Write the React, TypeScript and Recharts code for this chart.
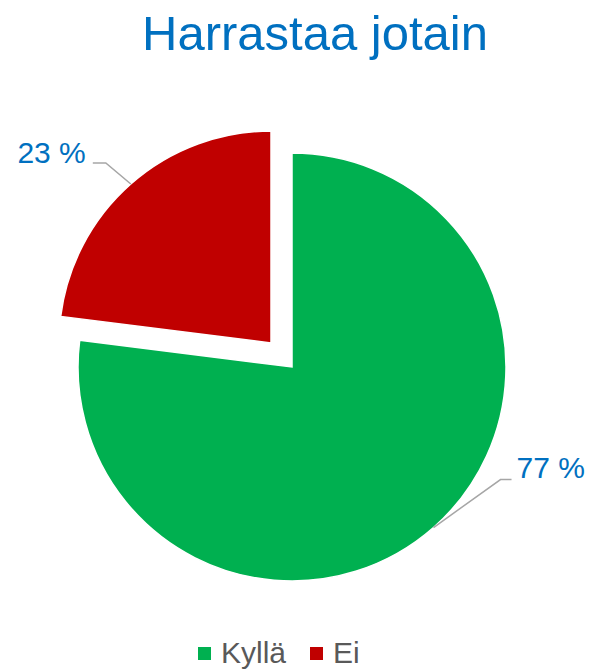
import React from 'react';
import { PieChart, Pie, Cell, Legend } from 'recharts';

const categories = ['Kyllä', 'Ei'];
const shares = [77, 23];
const colors = ['#00B050', '#C00000'];
const title = 'Harrastaa jotain';

const data = categories.map((name, i) => ({ name, value: shares[i] }));

const FONT = '"Liberation Sans", Arial, Helvetica, sans-serif';
const BLUE = '#0070C0';
const RAD = Math.PI / 180;

// label with an elbow leader line, only for the slice this pie shows
const makeLabel = (showIndex: number) => (props: any) => {
  const { cx, cy, midAngle, outerRadius, index, value } = props;
  if (index !== showIndex) return <g />;
  const ex = cx + outerRadius * Math.cos(-midAngle * RAD);
  const ey = cy + outerRadius * Math.sin(-midAngle * RAD);
  const right = Math.cos(-midAngle * RAD) >= 0;
  const elbowX = right ? ex + 67 : ex - 25;
  const elbowY = right ? ey - 48 : ey - 21;
  const endX = right ? elbowX + 11 : elbowX - 13;
  const textX = right ? endX + 5 : endX - 7;
  const textY = right ? elbowY - 2 : elbowY;
  return (
    <g>
      <polyline
        points={`${ex},${ey} ${elbowX},${elbowY} ${endX},${elbowY}`}
        fill="none"
        stroke="#A6A6A6"
        strokeWidth={1.5}
      />
      <text
        x={textX}
        y={textY}
        textAnchor={right ? 'start' : 'end'}
        fill={BLUE}
        fontSize={30}
        fontFamily={FONT}
      >
        {`${value} %`}
      </text>
    </g>
  );
};

const renderLegend = () => (
  <div style={{ display: 'flex', alignItems: 'center', fontFamily: FONT, fontSize: 30, color: '#595959' }}>
    {categories.map((name, i) => (
      <div key={name} style={{ display: 'flex', alignItems: 'center', marginRight: 24 }}>
        <span style={{ width: 13, height: 13, background: colors[i], marginRight: 10 }} />
        <span>{name}</span>
      </div>
    ))}
  </div>
);

const App: React.FC = () => {
  return (
    <div style={{ position: 'absolute', left: 0, top: 0, width: 593, height: 669, background: '#fff' }}>
      <svg width={593} height={70} style={{ position: 'absolute', left: 0, top: 0 }}>
        <text x={315} y={50} textAnchor="middle" fill={BLUE} fontSize={49} fontFamily={FONT}>
          {title}
        </text>
      </svg>
      <div style={{ position: 'absolute', left: 0, top: 0 }}>
        <PieChart width={593} height={669} margin={{ top: 0, right: 0, bottom: 0, left: 0 }}>
          <Pie
            data={data}
            dataKey="value"
            nameKey="name"
            cx={292}
            cy={367}
            outerRadius={214}
            startAngle={90}
            endAngle={-270}
            stroke="#fff"
            strokeWidth={1.5}
            label={makeLabel(0)}
            labelLine={false}
            isAnimationActive={false}
          >
            {data.map((d, i) => (
              <Cell key={d.name} fill={colors[i]} fillOpacity={i === 0 ? 1 : 0} strokeOpacity={i === 0 ? 1 : 0} />
            ))}
          </Pie>
          {/* exploded slice */}
          <Pie
            data={data}
            dataKey="value"
            nameKey="name"
            cx={271}
            cy={343}
            outerRadius={212}
            startAngle={90}
            endAngle={-270}
            stroke="#fff"
            strokeWidth={1.5}
            label={makeLabel(1)}
            labelLine={false}
            legendType="none"
            isAnimationActive={false}
          >
            {data.map((d, i) => (
              <Cell key={d.name} fill={colors[i]} fillOpacity={i === 1 ? 1 : 0} strokeOpacity={i === 1 ? 1 : 0} />
            ))}
          </Pie>
          <Legend content={renderLegend} wrapperStyle={{ left: 198, top: 636, width: 'auto' }} />
        </PieChart>
      </div>
    </div>
  );
};

export default App;
